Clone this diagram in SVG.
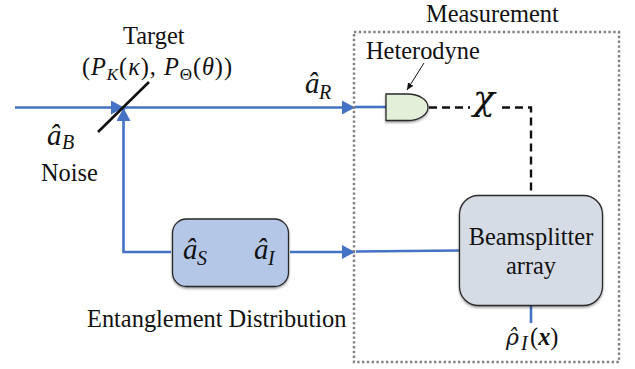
<svg xmlns="http://www.w3.org/2000/svg" width="635" height="369" viewBox="0 0 635 369">
<style>
text{font-family:"Liberation Serif",serif;fill:#111}
.t{font-size:24.400px}
.m{font-size:29px;font-style:italic}
.s{font-size:20px;font-style:italic}
.b{fill:none;stroke:#4472c4;stroke-width:2.6}
.d{fill:none;stroke:#111;stroke-width:2.4;stroke-dasharray:8 5}
.node{stroke:#2a2a2a;stroke-width:1.3}
</style>
<defs>
<marker id="ah" markerUnits="userSpaceOnUse" markerWidth="14" markerHeight="14" refX="13" refY="7" orient="auto"><path d="M0 0L13 7L0 14Z" fill="#4472c4"/></marker>
<marker id="bh" markerUnits="userSpaceOnUse" markerWidth="8" markerHeight="8" refX="7" refY="4" orient="auto"><path d="M0 .8L7 4L0 7.2Z" fill="#111"/></marker>
<filter id="sh" x="-10%" y="-10%" width="120%" height="125%"><feDropShadow dx="0" dy="1.5" stdDeviation="1.2" flood-color="#000" flood-opacity=".4"/></filter>
</defs>
<g id="connectors">
<path class="b" d="M15 107.500H124" marker-end="url(#ah)"/>
<path class="b" d="M124 107.500H355" marker-end="url(#ah)"/>
<path class="b" d="M355 107H386"/>
<path class="b" d="M171 252H123.500V108" marker-end="url(#ah)"/>
<path class="b" d="M290 252H355" marker-end="url(#ah)"/>
<path class="b" d="M356 251.500L460 250.500"/>
<path class="b" d="M531 306V323"/>
<path class="d" d="M429 107.500H470"/>
<path class="d" d="M502 107.500H531V195"/>
<path d="M98 132L149 82" stroke="#111" stroke-width="2.600" fill="none"/>
<path d="M424 63L407 90" stroke="#111" stroke-width="1" fill="none" marker-end="url(#bh)"/>
</g>
<g id="measurement"><rect x="354" y="32" width="265" height="330" fill="none" stroke="#808080" stroke-width="2.400" stroke-dasharray="2.400 2.400"/><text class="t" x="426" y="22">Measurement</text></g>
<g id="heterodyne"><path class="node" filter="url(#sh)" d="M386 94H407C420 94 428 100 428 107.500C428 114 420 120.500 407 120.500H386Z" fill="#e2efd9"/><text class="t" x="366" y="59">Heterodyne</text></g>
<g id="source"><rect class="node" filter="url(#sh)" x="172.500" y="219" width="116" height="67.500" rx="14" fill="#b4c7e7"/>
<text class="m" x="183" y="259">â</text><text class="s" x="197" y="265">S</text>
<text class="m" x="254" y="259">â</text><text class="s" x="268" y="265">I</text></g>
<g id="beamsplitter"><rect class="node" filter="url(#sh)" x="459.500" y="195.500" width="143" height="110" rx="19" fill="#d6dce5"/><text class="t" x="531" y="245" text-anchor="middle">Beamsplitter</text><text class="t" x="531" y="274" text-anchor="middle">array</text></g>
<g id="labels">
<text class="t" x="123" y="44">Target</text>
<text class="t" x="82" y="75" textLength="150" lengthAdjust="spacing">(<tspan font-style="italic">P</tspan><tspan font-size="17" font-style="italic" dy="5">K</tspan><tspan dy="-5">(</tspan><tspan font-style="italic">κ</tspan>), <tspan font-style="italic">P</tspan><tspan font-size="17" dy="5">Θ</tspan><tspan dy="-5">(</tspan><tspan font-style="italic">θ</tspan>))</text>
<text class="m" x="47" y="145">â</text><text class="s" x="62" y="149">B</text>
<text class="t" x="41" y="181">Noise</text>
<text class="m" x="305" y="93">â</text><text class="s" x="319" y="99">R</text>
<text x="473" y="110" font-size="36" font-style="italic" style="font-family:'DejaVu Serif',serif">χ</text>
<text x="506" y="345" font-size="22" font-style="italic" style="font-family:'DejaVu Serif',serif">ρ̂</text><text class="s" x="521" y="350">I</text><text class="t" x="530" y="345">(<tspan font-weight="bold" font-style="italic">x</tspan>)</text>
<text class="t" x="87" y="327">Entanglement Distribution</text>
</g>
</svg>
